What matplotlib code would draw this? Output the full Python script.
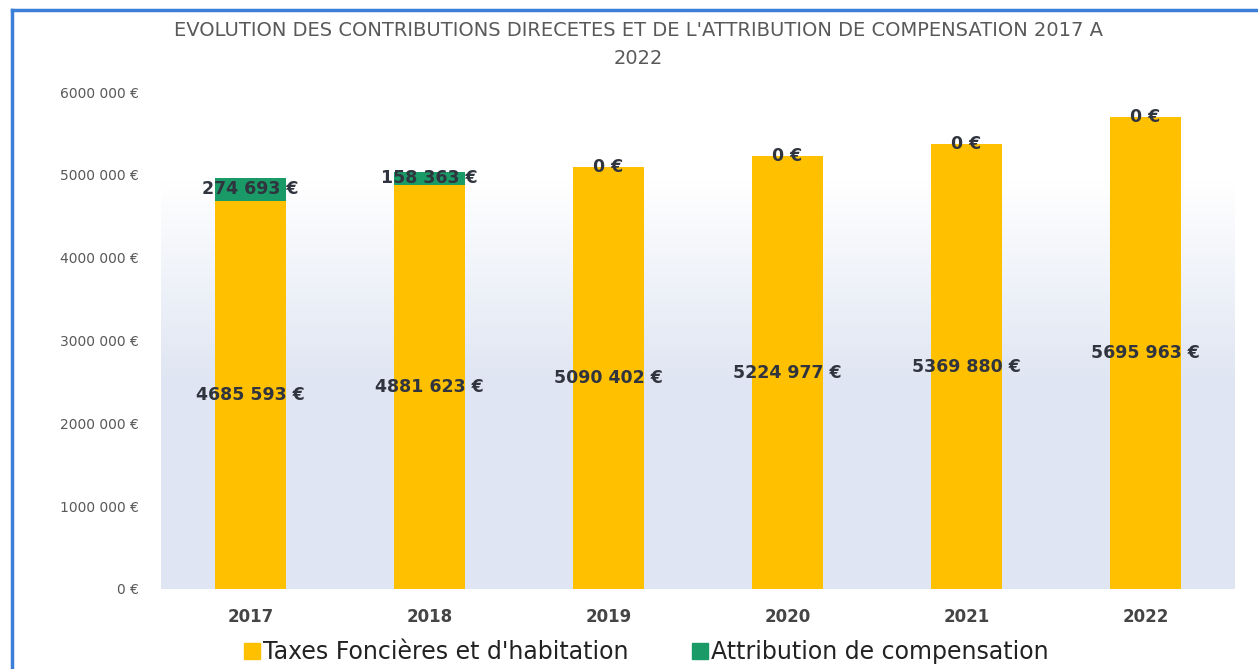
import numpy as np
import matplotlib
matplotlib.use("Agg")
import matplotlib.pyplot as plt
from matplotlib.lines import Line2D

plt.rcParams["font.family"] = ["DejaVu Sans"]

years = ["2017", "2018", "2019", "2020", "2021", "2022"]
taxes = [4685593, 4881623, 5090402, 5224977, 5369880, 5695963]
attribution = [274693, 158363, 0, 0, 0, 0]
y_ticks = [0, 1000000, 2000000, 3000000, 4000000, 5000000, 6000000]

YELLOW = "#FFC000"
GREEN = "#1A9A66"
TEXT = "#595959"
LABEL = "#30343e"


def euro(v):
    v = int(round(v))
    if v >= 1000:
        return f"{v // 1000} {v % 1000:03d} €"
    return f"{v} €"


W, H = 1258, 669
fig = plt.figure(figsize=(W / 100, H / 100), dpi=100)
fig.patch.set_facecolor("white")

ax = fig.add_axes([161 / W, 1 - 589 / H, 1074 / W, (589 - 92) / H])
ax.set_xlim(-0.5, 5.5)
ax.set_ylim(0, 6000000)

# plot-area gradient: light blue at the bottom fading to white at the top
f = np.linspace(0, 1, 256)
t = np.clip((0.82 - f) / 0.4, 0, 1)
top = np.array([1.0, 1.0, 1.0])
bot = np.array([0.875, 0.9, 0.95])
img = top[None, :] * (1 - t[:, None]) + bot[None, :] * t[:, None]
ax.imshow(img[:, None, :], extent=[-0.5, 5.5, 0, 6000000],
          aspect="auto", origin="lower", zorder=0)

x = np.arange(len(years))
ax.bar(x, taxes, width=0.4, color=YELLOW, zorder=2)
ax.bar(x, attribution, width=0.4, bottom=taxes, color=GREEN, zorder=2)

for i in range(len(years)):
    ax.text(x[i], taxes[i] / 2, euro(taxes[i]), ha="center", va="center",
            fontsize=12.5, fontweight="bold", color=LABEL, zorder=3)
    ax.text(x[i], taxes[i] + attribution[i] / 2, euro(attribution[i]),
            ha="center", va="center", fontsize=12.5, fontweight="bold",
            color=LABEL, zorder=3)

ax.set_xticks(x)
ax.set_xticklabels(years, fontsize=12, fontweight="bold", color="#454545")
ax.set_yticks(y_ticks)
ax.set_yticklabels([euro(v) for v in y_ticks], fontsize=10, color=TEXT)
ax.tick_params(axis="x", length=0, pad=14)
ax.tick_params(axis="y", length=0, pad=16)
for s in ax.spines.values():
    s.set_visible(False)

fig.text(638 / W, 1 - 31 / H,
         "EVOLUTION DES CONTRIBUTIONS DIRECETES ET DE L'ATTRIBUTION DE COMPENSATION 2017 A",
         ha="center", va="center", fontsize=14, color=TEXT)
fig.text(638 / W, 1 - 59 / H, "2022", ha="center", va="center",
         fontsize=14, color=TEXT)

handles = [
    Line2D([], [], marker="s", linestyle="none", markersize=11,
           markerfacecolor=YELLOW, markeredgecolor=YELLOW),
    Line2D([], [], marker="s", linestyle="none", markersize=11,
           markerfacecolor=GREEN, markeredgecolor=GREEN),
]
fig.legend(handles, ["Taxes Foncières et d'habitation", "Attribution de compensation"],
           loc="center", bbox_to_anchor=(645 / W, 1 - 652 / H), ncol=2,
           frameon=False, fontsize=17, handletextpad=0.0, columnspacing=2.6,
           handlelength=0.9, labelcolor="#222222")

# scanned frame border
fig.add_artist(Line2D([12 / W, 12 / W], [0, 1 - 10 / H], color="#3b7fd9", lw=2.5))
fig.add_artist(Line2D([12 / W, 1], [1 - 10 / H, 1 - 10 / H], color="#3b7fd9", lw=2.5))

fig.savefig("out.png", dpi=100, facecolor="white")
